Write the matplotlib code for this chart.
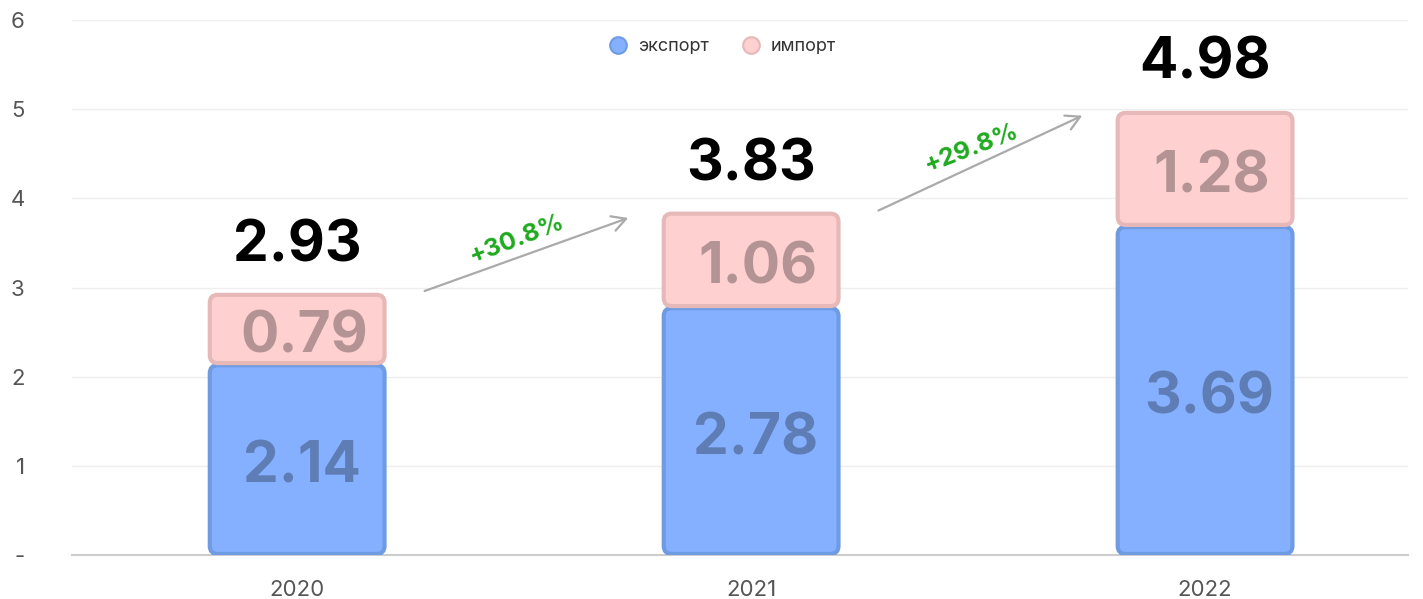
import numpy as np
import matplotlib.pyplot as plt
from matplotlib.patches import FancyBboxPatch
from matplotlib.lines import Line2D

plt.rcParams['font.family'] = ['Inter', 'DejaVu Sans']

# -----------------------------
# data
# -----------------------------
years = ["2020", "2021", "2022"]
export_vals = [2.14, 2.78, 3.69]
import_vals = [0.79, 1.06, 1.28]
totals = [2.93, 3.83, 4.98]
growth = ["+30.8%", "+29.8%"]
yticks = [0, 1, 2, 3, 4, 5, 6]
ytick_labels = ["-", "1", "2", "3", "4", "5", "6"]

blue_fill, blue_edge, blue_text = "#85b0ff", "#6f9be3", "#5f7db5"
pink_fill, pink_edge, pink_text = "#ffd0d0", "#e6b8b8", "#b39393"

fig = plt.figure(figsize=(14.23, 5.99), dpi=100)
ax = fig.add_axes([72 / 1423, 44 / 599, (1408 - 72) / 1423, 535 / 599])
ax.set_xlim(-0.496, 2.447)
ax.set_ylim(0, 6)

x = np.arange(len(years))
width = 0.385
gap = 0.012
aspect = (454 / 89.2)
r = 8 / 454
cap = 0.235  # half of the digit height in data units


def seg(xc, y0, y1, fc, ec):
    p = FancyBboxPatch((xc - width / 2, y0 + gap), width, y1 - y0 - 2 * gap,
                       boxstyle=f"round,pad=0,rounding_size={r}",
                       mutation_aspect=aspect, fc=fc, ec=ec, lw=3, zorder=3)
    ax.add_patch(p)


for i in range(len(years)):
    e, m = export_vals[i], import_vals[i]
    seg(x[i], 0, e, blue_fill, blue_edge)
    seg(x[i], e, e + m, pink_fill, pink_edge)
    ax.text(x[i] + 0.01, e / 2 - 0.025 - cap, f"{e:.2f}", ha="center", va="baseline",
            fontsize=41, fontweight="bold", color=blue_text, zorder=4)
    ax.text(x[i] + 0.015, e + m / 2 - 0.025 - cap, f"{m:.2f}", ha="center", va="baseline",
            fontsize=41, fontweight="bold", color=pink_text, zorder=4)
    ax.text(x[i], totals[i] + 0.6 - cap, f"{totals[i]:.2f}", ha="center", va="baseline",
            fontsize=41, fontweight="bold", color="black", zorder=4)

# growth arrows
for i in range(len(growth)):
    x0, x1 = x[i] + 0.275, x[i + 1] - 0.265
    y0, y1 = totals[i] + 0.02, totals[i + 1] - 0.04
    ax.annotate("", xy=(x1, y1), xytext=(x0, y0),
                arrowprops=dict(arrowstyle="->,head_length=1.0,head_width=0.55",
                                color="#aaaaaa", lw=1.6), zorder=4)
    ax.text((x0 + x1) / 2 - 0.02, (y0 + y1) / 2 + 0.17, growth[i], ha="center",
            va="center", rotation=21, rotation_mode="anchor", fontsize=18,
            fontweight="bold", color="#1faa1f")

# axes styling
ax.set_xticks(x)
ax.set_xticklabels(years, fontsize=16, color="#555555")
ax.set_yticks(yticks)
ax.set_yticklabels(ytick_labels, fontsize=16, color="#555555")
ax.tick_params(axis="both", length=0)
ax.tick_params(axis="y", pad=34)
ax.tick_params(axis="x", pad=18)
ax.grid(axis="y", color="#eeeeee", lw=1, zorder=0)
ax.set_axisbelow(True)
for s in ["top", "right", "left"]:
    ax.spines[s].set_visible(False)
ax.spines["bottom"].set_color("#cccccc")
ax.spines["bottom"].set_linewidth(1.5)

# legend
handles = [
    Line2D([], [], marker="o", ls="", markersize=12, mfc=blue_fill, mec=blue_edge, mew=1.5),
    Line2D([], [], marker="o", ls="", markersize=12, mfc=pink_fill, mec=pink_edge, mew=1.5),
]
ax.legend(handles, ["экспорт", "импорт"], loc="center",
          bbox_to_anchor=((718 - 72) / 1336, (555 - 47) / 535),
          ncol=2, frameon=False, fontsize=13, handletextpad=0.1, columnspacing=1.3,
          labelcolor="#333333")

plt.savefig("out.png", dpi=100)
